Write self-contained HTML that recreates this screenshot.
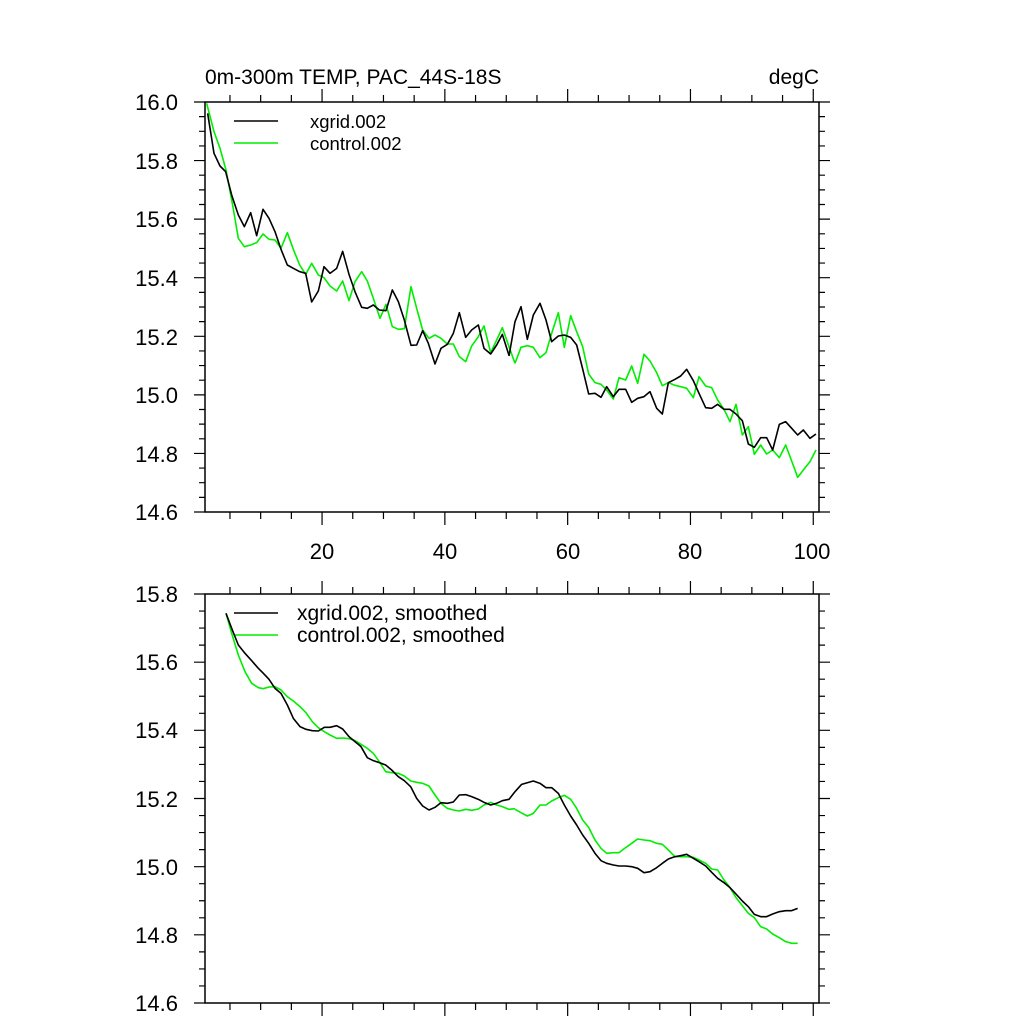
<!DOCTYPE html>
<html><head><meta charset="utf-8"><style>
html,body{margin:0;padding:0;background:#fff;}
svg{display:block;font-family:"Liberation Sans",sans-serif;}
</style></head><body>
<svg width="1024" height="1024" viewBox="0 0 1024 1024" xmlns="http://www.w3.org/2000/svg">
<defs>
<clipPath id="c1"><rect x="205" y="102" width="614" height="410"/></clipPath>
<clipPath id="c2"><rect x="205" y="594" width="614" height="409"/></clipPath>
</defs>
<rect width="1024" height="1024" fill="#fff"/>
<g stroke="#000" stroke-width="1.2" fill="none">
<!-- top plot y ticks -->
<path d="M205 102h-11M205 116.64h-6M205 131.29h-6M205 145.93h-6M205 160.57h-11M205 175.21h-6M205 189.86h-6M205 204.5h-6M205 219.14h-11M205 233.79h-6M205 248.43h-6M205 263.07h-6M205 277.71h-11M205 292.36h-6M205 307h-6M205 321.64h-6M205 336.29h-11M205 350.93h-6M205 365.57h-6M205 380.21h-6M205 394.86h-11M205 409.5h-6M205 424.14h-6M205 438.79h-6M205 453.43h-11M205 468.07h-6M205 482.71h-6M205 497.36h-6M205 512h-11"/>
<path d="M819 102h11M819 116.64h6M819 131.29h6M819 145.93h6M819 160.57h11M819 175.21h6M819 189.86h6M819 204.5h6M819 219.14h11M819 233.79h6M819 248.43h6M819 263.07h6M819 277.71h11M819 292.36h6M819 307h6M819 321.64h6M819 336.29h11M819 350.93h6M819 365.57h6M819 380.21h6M819 394.86h11M819 409.5h6M819 424.14h6M819 438.79h6M819 453.43h11M819 468.07h6M819 482.71h6M819 497.36h6M819 512h11"/>
<!-- bottom plot y ticks -->
<path d="M205 594h-11M205 611.04h-6M205 628.08h-6M205 645.13h-6M205 662.17h-11M205 679.21h-6M205 696.25h-6M205 713.29h-6M205 730.33h-11M205 747.38h-6M205 764.42h-6M205 781.46h-6M205 798.5h-11M205 815.54h-6M205 832.58h-6M205 849.63h-6M205 866.67h-11M205 883.71h-6M205 900.75h-6M205 917.79h-6M205 934.83h-11M205 951.88h-6M205 968.92h-6M205 985.96h-6M205 1003h-11"/>
<path d="M819 594h11M819 611.04h6M819 628.08h6M819 645.13h6M819 662.17h11M819 679.21h6M819 696.25h6M819 713.29h6M819 730.33h11M819 747.38h6M819 764.42h6M819 781.46h6M819 798.5h11M819 815.54h6M819 832.58h6M819 849.63h6M819 866.67h11M819 883.71h6M819 900.75h6M819 917.79h6M819 934.83h11M819 951.88h6M819 968.92h6M819 985.96h6M819 1003h11"/>
<!-- x ticks top plot: top edge up, bottom edge down -->
<path d="M229.96 102v-7M260.66 102v-7M291.36 102v-7M322.06 102v-13M352.76 102v-7M383.46 102v-7M414.16 102v-7M444.86 102v-13M475.56 102v-7M506.26 102v-7M536.96 102v-7M567.66 102v-13M598.36 102v-7M629.06 102v-7M659.76 102v-7M690.46 102v-13M721.16 102v-7M751.86 102v-7M782.56 102v-7M813.26 102v-13"/>
<path d="M229.96 512v7M260.66 512v7M291.36 512v7M322.06 512v13M352.76 512v7M383.46 512v7M414.16 512v7M444.86 512v13M475.56 512v7M506.26 512v7M536.96 512v7M567.66 512v13M598.36 512v7M629.06 512v7M659.76 512v7M690.46 512v13M721.16 512v7M751.86 512v7M782.56 512v7M813.26 512v13"/>
<path d="M229.96 594v-7M260.66 594v-7M291.36 594v-7M322.06 594v-13M352.76 594v-7M383.46 594v-7M414.16 594v-7M444.86 594v-13M475.56 594v-7M506.26 594v-7M536.96 594v-7M567.66 594v-13M598.36 594v-7M629.06 594v-7M659.76 594v-7M690.46 594v-13M721.16 594v-7M751.86 594v-7M782.56 594v-7M813.26 594v-13"/>
<path d="M229.96 1003v7M260.66 1003v7M291.36 1003v7M322.06 1003v13M352.76 1003v7M383.46 1003v7M414.16 1003v7M444.86 1003v13M475.56 1003v7M506.26 1003v7M536.96 1003v7M567.66 1003v13M598.36 1003v7M629.06 1003v7M659.76 1003v7M690.46 1003v13M721.16 1003v7M751.86 1003v7M782.56 1003v7M813.26 1003v13"/>
</g>
<rect x="205" y="102" width="614" height="410" fill="none" stroke="#000" stroke-width="1.5"/>
<rect x="205" y="594" width="614" height="409" fill="none" stroke="#000" stroke-width="1.5"/>
<g font-size="22" fill="#000" text-anchor="end">
<text x="178" y="110">16.0</text><text x="178" y="169">15.8</text><text x="178" y="227">15.6</text><text x="178" y="286">15.4</text><text x="178" y="345">15.2</text><text x="178" y="403">15.0</text><text x="178" y="462">14.8</text><text x="178" y="520">14.6</text>
<text x="178" y="602">15.8</text><text x="178" y="670">15.6</text><text x="178" y="738">15.4</text><text x="178" y="807">15.2</text><text x="178" y="875">15.0</text><text x="178" y="943">14.8</text><text x="178" y="1011">14.6</text>
</g>
<g font-size="22" fill="#000" text-anchor="middle">
<text x="322" y="559">20</text><text x="445" y="559">40</text><text x="568" y="559">60</text><text x="690" y="559">80</text><text x="812" y="559">100</text>
</g>
<text x="205" y="84" font-size="21">0m-300m TEMP, PAC_44S-18S</text>
<text x="819" y="84" font-size="21" text-anchor="end">degC</text>
<g font-size="18.5">
<line x1="234" y1="121" x2="278" y2="121" stroke="#000" stroke-width="1.6"/><text x="310" y="128">xgrid.002</text>
<line x1="234" y1="143" x2="278" y2="143" stroke="#00ee00" stroke-width="1.6"/><text x="310" y="150">control.002</text>
</g>
<g font-size="21">
<line x1="234" y1="613" x2="278" y2="613" stroke="#000" stroke-width="1.6"/><text x="297" y="620">xgrid.002, smoothed</text>
<line x1="234" y1="635" x2="278" y2="635" stroke="#00ee00" stroke-width="1.6"/><text x="297" y="642">control.002, smoothed</text>
</g>
<g clip-path="url(#c1)" fill="none" stroke-width="1.6" stroke-linejoin="round">
<g transform="translate(195,90) scale(0.33333)">
<polyline vector-effect="non-scaling-stroke" stroke="#00ee00" points="35,40 57,125 75,175 93,240 112,340 130,445 148,470 167,465 185,458 204,432 222,448 240,450 258,475 277,428 295,478 314,525 332,553 350,520 370,555 387,563 405,588 425,603 443,573 462,632 480,575 500,545 517,573 535,625 555,685 573,643 592,710 610,718 628,716 648,590 665,655 683,720 702,745 720,735 738,745 757,762 775,762 793,800 812,815 830,768 850,740 867,708 887,788 905,750 922,713 942,770 960,820"/>
<polyline vector-effect="non-scaling-stroke" stroke="#000" points="38,70 57,190 75,228 92,245 110,315 130,375 148,410 167,368 185,437 204,358 222,385 240,425 258,478 277,525 295,535 314,545 332,550 350,636 370,603 387,530 405,550 425,535 443,484 462,553 480,605 500,652 517,655 535,645 553,660 573,662 592,600 610,635 628,690 648,766 665,765 683,722 700,760 720,822 738,775 757,763 775,730 793,668 812,742 830,720 850,705 867,775 887,792 905,765 922,733 942,796"/>
</g>
<g transform="translate(500,250) scale(0.33333)">
<polyline vector-effect="non-scaling-stroke" stroke="#00ee00" points="45,340 63,292 82,287 100,292 120,323 138,308 155,250 175,188 193,292 212,197 230,245 248,290 266,372 285,398 303,403 320,420 340,447 357,383 377,390 395,348 413,400 432,313 450,333 470,368 487,407 505,398 525,406 542,410 560,415 580,443 597,380 617,408 635,413 653,450 672,478 690,515 708,463 727,555 745,530 763,613 782,585 800,612 818,600 838,623 857,585 875,633 893,682 910,660 930,635 948,600"/>
<polyline vector-effect="non-scaling-stroke" stroke="#000" points="27,318 45,215 63,170 82,268 100,195 120,160 138,210 155,275 175,258 193,255 212,262 230,285 248,357 266,432 285,430 303,442 320,410 340,440 357,418 377,418 395,457 413,445 432,440 450,425 470,475 487,492 505,398 525,388 542,378 560,358 580,392 597,430 617,473 635,475 653,463 672,478 690,478 708,492 727,512 745,582 763,592 782,563 800,563 818,600 838,523 857,515 875,535 893,555 910,540 930,565 948,552"/>
</g>
</g>
<g clip-path="url(#c2)" fill="none" stroke-width="1.6" stroke-linejoin="round">
<g transform="translate(195,590) scale(0.33333)">
<polyline vector-effect="non-scaling-stroke" stroke="#00ee00" points="93,70 110,130 130,195 150,245 170,280 190,293 205,296 222,291 240,290 258,300 277,320 295,333 315,350 333,368 352,395 370,413 388,425 405,435 425,445 443,444 462,446 480,452 498,463 517,475 535,490 553,515 572,545 590,548 610,550 628,558 647,573 665,577 683,580 702,588 720,615 738,640 757,655 775,660 793,663 812,658 830,661 850,657 867,645 887,637 905,645 922,650 942,658 960,656"/>
<polyline vector-effect="non-scaling-stroke" stroke="#000" points="93,70 110,115 130,165 150,190 170,212 190,235 205,250 222,268 240,295 258,310 277,345 295,385 315,410 333,418 352,422 370,423 388,412 405,412 425,407 443,417 462,440 480,455 498,470 517,503 535,512 553,518 572,525 590,540 610,560 628,572 647,590 665,625 683,648 702,660 720,652 738,638 757,640 775,636 793,615 812,614 830,620 850,628 867,637 887,645 905,640 922,632 942,628 960,605"/>
</g>
<g transform="translate(500,740) scale(0.33333)">
<polyline vector-effect="non-scaling-stroke" stroke="#00ee00" points="45,208 63,218 82,228 100,220 120,195 138,195 155,183 175,173 193,166 212,178 230,205 248,240 266,262 285,300 303,325 320,340 340,338 357,338 377,323 395,310 413,297 432,300 450,302 470,310 487,313 505,330 525,350 542,350 560,350 580,352 597,360 617,370 635,387 653,390 672,420 690,443 708,473 727,497 745,520 763,533 782,560 800,567 818,582 838,593 857,605 875,610 893,610"/>
<polyline vector-effect="non-scaling-stroke" stroke="#000" points="45,155 65,133 100,123 120,130 138,143 155,143 175,160 193,195 212,228 230,255 248,285 266,310 285,340 303,362 320,370 340,375 357,378 377,378 395,380 413,385 432,398 450,395 470,383 487,370 505,357 525,350 542,347 560,343 580,355 597,365 617,378 635,397 653,415 672,428 690,443 708,462 727,483 745,500 763,523 782,530 800,530 818,522 838,515 857,512 875,512 893,505"/>
</g>
</g>
</svg>
</body></html>
